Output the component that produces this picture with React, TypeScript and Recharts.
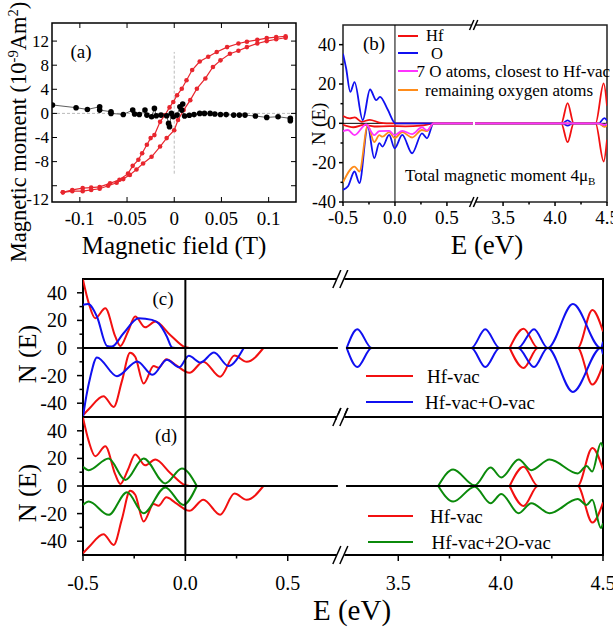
import React from "react";
import {
  LineChart,
  Line,
  XAxis,
  YAxis,
  ReferenceLine,
  ReferenceArea,
  ReferenceDot,
} from "recharts";

const SERIF = "'Liberation Serif', 'Times New Roman', serif";

type Pt = [number, number];

// ---------- panel (a): moment vs field ----------
const LOOP_DESC: Pt[] = [
  [0.118, 12.8], [0.108, 12.65], [0.098, 12.5], [0.088, 12.2], [0.077, 11.9],
  [0.068, 11.6], [0.056, 11.0], [0.045, 10.2], [0.036, 9.4], [0.027, 8.6],
  [0.019, 7.2], [0.013, 5.5], [0.008, 4.1], [0.003, 3.0], [-0.001, 1.9],
  [-0.005, 1.0], [-0.01, -0.3], [-0.015, -1.4], [-0.021, -3.6], [-0.025, -4.1],
  [-0.029, -5.2], [-0.034, -6.6], [-0.038, -7.7], [-0.044, -8.7], [-0.049, -10.0],
  [-0.058, -11.0], [-0.068, -11.6], [-0.079, -12.2], [-0.088, -12.3], [-0.097, -12.4],
  [-0.108, -12.7], [-0.118, -13.1],
];
const LOOP_ASC: Pt[] = [
  [-0.118, -13.1], [-0.108, -12.9], [-0.097, -12.9], [-0.088, -12.7], [-0.079, -12.5],
  [-0.07, -12.0], [-0.061, -11.5], [-0.054, -10.9], [-0.047, -10.2], [-0.04, -9.3],
  [-0.033, -8.3], [-0.024, -7.2], [-0.015, -5.5], [-0.008, -4.1], [0.0, -2.8],
  [0.004, -1.1], [0.01, 0.55], [0.017, 2.2], [0.024, 4.1], [0.033, 5.8],
  [0.041, 7.7], [0.049, 8.8], [0.059, 9.9], [0.068, 10.4], [0.077, 11.0],
  [0.088, 11.6], [0.098, 12.0], [0.108, 12.3], [0.118, 12.55],
];
const SUBSTRATE: Pt[] = [
  [-0.129, 1.4], [-0.104, 0.95], [-0.092, 0.66], [-0.079, 1.1], [-0.079, 0.55],
  [-0.067, 0.28], [-0.067, 0], [-0.054, -0.17], [-0.044, 0.55], [-0.042, -0.1],
  [-0.037, -0.17], [-0.031, 0.55], [-0.029, -0.28], [-0.024, -0.55], [-0.021, 0.83],
  [-0.019, -0.4], [-0.014, -0.28], [-0.008, -0.4], [-0.006, -1.66], [-0.005, -2.2],
  [-0.003, 0], [-0.001, -0.55], [0.003, -0.28], [0.006, 1.1], [0.009, 1.55],
  [0.008, 0.55], [0.011, -0.44], [0.016, -0.3], [0.021, -0.2], [0.027, 0],
  [0.032, 0], [0.038, 0], [0.043, -0.1], [0.049, -0.17], [0.055, -0.2],
  [0.063, -0.28], [0.069, -0.28], [0.075, -0.28], [0.086, -0.44], [0.098, -0.66],
  [0.11, -0.55], [0.123, -0.83], [0.123, -1.2],
];
const FIELD_TICKS = [-0.1, -0.05, 0, 0.05, 0.1];
const MOMENT_TICKS = [-12, -8, -4, 0, 4, 8, 12];

// ---------- panel (b): projected DOS, Hf-vac ----------
const B_HF_UP: Pt[] = [
  [-0.5, 3.7], [-0.435, 2.5], [-0.387, 3.0], [-0.32, 0.8], [-0.242, 1.8], [-0.15, 0.4],
  [-0.08, 0], [0.75, 0], [3.23, 0], [4.06, 0], [4.121, 10.3], [4.18, 0],
  [4.39, 0], [4.468, 20.3], [4.5, 9],
];
const B_HF_DOWN: Pt[] = [
  [-0.5, -0.8], [-0.4, -2], [-0.3, -0.8], [-0.2, -1.6], [-0.05, -1.4], [0.1, -1.5],
  [0.25, -1.2], [0.38, 0], [0.75, 0], [3.23, 0], [4.06, 0], [4.121, -9.6],
  [4.18, 0], [4.39, 0], [4.468, -19.4], [4.5, -8.4],
];
const B_O_UP: Pt[] = [
  [-0.5, 35.4], [-0.47, 28], [-0.43, 16], [-0.389, 21], [-0.31, 1.7], [-0.24, 17.2],
  [-0.18, 11.8], [-0.144, 13.5], [-0.07, 7], [0.005, 0], [0.75, 0], [3.23, 0],
  [4.07, 0], [4.121, 1.5], [4.17, 0], [4.42, 0], [4.475, 2.6], [4.5, 1.4],
];
const B_O_DOWN: Pt[] = [
  [-0.5, -33.8], [-0.452, -32], [-0.389, -24.5], [-0.342, -30.4], [-0.262, -1.7],
  [-0.199, -17.7], [-0.151, -10.1], [-0.12, -11.8], [-0.056, -5.9], [-0.003, -12.7],
  [0.07, -5.9], [0.165, -15.2], [0.26, -5.1], [0.308, -7.6], [0.371, 0], [0.75, 0],
  [3.23, 0], [4.07, 0], [4.121, -1.2], [4.17, 0], [4.42, 0], [4.475, -1.5], [4.5, -0.6],
];
const B_NEAR_DOWN: Pt[] = [
  [-0.5, -4], [-0.452, -3.4], [-0.389, -6], [-0.278, -0.6], [-0.199, -6], [-0.151, -4],
  [-0.056, -3.8], [-0.003, -6], [0.07, -3.8], [0.165, -5.5], [0.26, -2], [0.308, -3.6],
  [0.371, 0], [0.75, 0], [3.23, 0], [4.42, 0], [4.475, -0.8], [4.5, -0.4],
];
const B_REST_DOWN: Pt[] = [
  [-0.5, -30], [-0.389, -22], [-0.342, -24.5], [-0.262, -1], [-0.199, -9.5], [-0.151, -6],
  [-0.12, -6.8], [-0.056, -4.5], [-0.003, -7.5], [0.07, -4.5], [0.165, -7.2], [0.26, -3.4],
  [0.308, -4], [0.371, 0], [0.75, 0], [3.23, 0], [4.42, 0], [4.475, -1.8], [4.5, -1.1],
];

// ---------- panels (c), (d): total DOS ----------
const HFVAC_UP: Pt[] = [
  [-0.5, 49.5], [-0.472, 32.5], [-0.44, 21.6], [-0.391, 28.8], [-0.342, 8.2], [-0.318, 1.5],
  [-0.28, 12], [-0.245, 22.8], [-0.196, 15], [-0.147, 19.2], [-0.074, 9.5], [0, 0.5],
  [0.02, 0], [4.044, 0], [4.112, 14], [4.182, 0], [4.376, 0], [4.448, 27.6], [4.5, 12],
];
const HFVAC_DOWN: Pt[] = [
  [-0.5, -48.7], [-0.47, -44], [-0.4, -34.9], [-0.35, -42.7], [-0.31, -24], [-0.27, -3.4],
  [-0.245, -6.3], [-0.204, -25.7], [-0.155, -13.1], [-0.131, -14.3], [-0.093, -8.2],
  [-0.05, -12], [0.02, -18], [0.088, -9.9], [0.17, -20.8], [0.24, -5.5], [0.3, -10],
  [0.381, 0], [4.044, 0], [4.112, -14.5], [4.182, 0], [4.376, 0], [4.448, -26.5], [4.5, -12],
];
const OVAC_UP: Pt[] = [
  [-0.5, 31.3], [-0.475, 31.8], [-0.432, 22.8], [-0.383, 1.5], [-0.359, 1.0], [-0.302, 10.7],
  [-0.228, 21.6], [-0.163, 20.4], [-0.131, 17.9], [-0.09, 8.2], [-0.066, 0.5], [-0.05, 0],
  [3.248, 0], [3.3, 13.6], [3.37, 0], [3.857, 0], [3.925, 13.6], [3.995, 0], [4.085, 0],
  [4.163, 13.6], [4.23, 0], [4.353, 31.8], [4.49, 0], [4.5, 4.6],
];
const OVAC_DOWN: Pt[] = [
  [-0.5, -50], [-0.484, -35], [-0.464, -20.8], [-0.432, -6.8], [-0.334, -20.4],
  [-0.235, -9.7], [-0.16, -19.4], [-0.09, -8.5], [-0.03, -14], [0.017, -5.7],
  [0.074, -10.5], [0.14, -3.3], [0.21, -13], [0.285, 0], [3.248, 0], [3.3, -13.8],
  [3.37, 0], [3.857, 0], [3.925, -13.8], [3.995, 0], [4.085, 0], [4.163, -13.8],
  [4.23, 0], [4.353, -31.8], [4.49, 0], [4.5, -4.6],
];
const O2VAC_UP: Pt[] = [
  [-0.5, 13.9], [-0.472, 11.5], [-0.375, 19.9], [-0.293, 4.3], [-0.204, 19.9], [-0.098, 1.9],
  [-0.017, 12.7], [0.056, 0], [3.695, 0], [3.768, 12], [3.873, 0.5], [3.951, 13.4],
  [4.003, 6.2], [4.088, 19.2], [4.15, 11.5], [4.239, 19.2], [4.377, 9.1], [4.42, 14.5],
  [4.447, 10.5], [4.49, 31.2], [4.5, 28],
];
const O2VAC_DOWN: Pt[] = [
  [-0.5, -13.7], [-0.472, -11.3], [-0.375, -20.9], [-0.285, -4.5], [-0.204, -19.7],
  [-0.098, -1], [-0.01, -13.7], [0.056, 0], [3.695, 0], [3.768, -11.3], [3.873, -0.5],
  [3.951, -12.5], [4.003, -5.8], [4.088, -19.7], [4.15, -12.5], [4.239, -19.7],
  [4.377, -9.5], [4.42, -13.7], [4.447, -10], [4.49, -30.5], [4.5, -27],
];
const ZERO: Pt[] = [[-0.5, 0], [0.745, 0], [3.245, 0], [4.5, 0]];
const E_TICKS = [-0.5, -0.25, 0, 0.25, 0.5, 3.5, 3.75, 4.0, 4.25, 4.5];
const DOS_TICKS_B = [-40, -30, -20, -10, 0, 10, 20, 30, 40];
const DOS_TICKS_CD = [-40, -30, -20, -10, 0, 10, 20, 30, 40];

// broken energy axis: 0.75..3.2 eV squeezed out
const GAP = 2.46;
const BREAK = 0.757;
const tx = (e: number) => (e > 2 ? e - GAP : e);
const realE = (t: number) => (t > BREAK ? t + GAP : t);
const X_MIN = -0.5;
const X_MAX = tx(4.5);

function toPlot(pts: Pt[]) {
  const out: { x: number; y: number | null }[] = [];
  pts.forEach(([e, n], i) => {
    if (i > 0 && pts[i - 1][0] < 2 && e > 2) out.push({ x: BREAK + 0.008, y: null });
    out.push({ x: tx(e), y: n });
  });
  return out;
}
const xy = (pts: Pt[]) => pts.map(([x, y]) => ({ x, y }));

const RED = "#f21010";
const BLUE = "#1010f0";
const GREEN = "#0b8a0b";
const MAGENTA = "#ff33ff";
const ORANGE = "#ff8c1a";
const LOOP_RED = "#e8262e";

// ---------- ticks ----------
const A_W = 244;
const A_H = 179;

function AXTick({ x, y, payload }: any) {
  return (
    <g>
      <line x1={x} x2={x} y1={y} y2={y - 5} stroke="#000" />
      <line x1={x} x2={x} y1={y - A_H} y2={y - A_H + 5} stroke="#000" />
      <text x={x} y={y + 16} textAnchor="middle" dominantBaseline="central" fontSize={19} fontFamily={SERIF}>
        {String(payload.value)}
      </text>
    </g>
  );
}

function AYTick({ x, y, payload }: any) {
  const v = payload.value;
  return (
    <g>
      <line x1={x} x2={x + 5} y1={y} y2={y} stroke="#000" />
      <line x1={x + A_W} x2={x + A_W - 5} y1={y} y2={y} stroke="#000" />
      <text x={x - 3} y={y + (v === -12 ? 14 : 0)} textAnchor="end" dominantBaseline="central" fontSize={17} fontFamily={SERIF}>
        {String(v)}
      </text>
    </g>
  );
}

function makeETick(fontSize: number, labelDy: number, major: number, minor: number) {
  return ({ x, y, payload }: any) => {
    const e = realE(payload.value);
    const isMajor = Math.abs(e * 2 - Math.round(e * 2)) < 1e-6;
    return (
      <g>
        <line x1={x} x2={x} y1={y} y2={y + (isMajor ? major : minor)} stroke="#000" strokeWidth={1.5} />
        {isMajor && (
          <text x={x} y={y + labelDy} textAnchor="middle" dominantBaseline="central" fontSize={fontSize} fontFamily={SERIF}>
            {e.toFixed(1)}
          </text>
        )}
      </g>
    );
  };
}

function makeNTick(fontSize: number, gap: number, major: number, minor: number) {
  return ({ x, y, payload }: any) => {
    const v = payload.value;
    const isMajor = v % 20 === 0;
    return (
      <g>
        <line x1={x - (isMajor ? major : minor)} x2={x} y1={y} y2={y} stroke="#000" strokeWidth={1.5} />
        {isMajor && (
          <text x={x - gap} y={y} textAnchor="end" dominantBaseline="central" fontSize={fontSize} fontFamily={SERIF}>
            {String(v)}
          </text>
        )}
      </g>
    );
  };
}

const BTickX = makeETick(19, 15, 4, 2.5);
const BTickY = makeNTick(18, 7, 4, 2.5);
const DTickX = makeETick(20, 28, 6, 3.5);
const CDTickY = makeNTick(20, 16, 6, 3.5);

function BreakMark({ cx, cy, s }: { cx: number; cy: number; s: number }) {
  return (
    <g>
      <rect x={cx - 3.5 * s} y={cy - 2.5 * s} width={7.5 * s} height={5 * s} fill="#fff" />
      <line x1={cx - 7.5 * s} y1={cy + 9 * s} x2={cx + 0.5 * s} y2={cy - 9 * s} stroke="#000" strokeWidth={1.5} />
      <line x1={cx - 0.5 * s} y1={cy + 9 * s} x2={cx + 7.5 * s} y2={cy - 9 * s} stroke="#000" strokeWidth={1.5} />
    </g>
  );
}

// ---------- text helpers ----------
function Txt({
  x, y, size, anchor = "middle", rotate = false, children,
}: { x: number; y: number; size: number; anchor?: "middle" | "start"; rotate?: boolean; children: React.ReactNode }) {
  const tx0 = anchor === "middle" ? "-50%" : "0";
  return (
    <div
      style={{
        position: "absolute",
        left: x,
        top: y,
        fontSize: size,
        fontFamily: SERIF,
        lineHeight: 1,
        whiteSpace: "nowrap",
        color: "#000",
        transform: `translate(${tx0}, -50%)${rotate ? " rotate(-90deg)" : ""}`,
      }}
    >
      {children}
    </div>
  );
}

function LegendLine({ x1, x2, y, color }: { x1: number; x2: number; y: number; color: string }) {
  return <div style={{ position: "absolute", left: x1, top: y - 1, width: x2 - x1, height: 2, background: color }} />;
}

const lineProps = {
  dataKey: "y",
  dot: false,
  activeDot: false,
  isAnimationActive: false,
  type: "monotone" as const,
};

function PanelA() {
  return (
    <LineChart width={300} height={240} margin={{ top: 23, right: 4, bottom: 8, left: 0 }}>
      <XAxis
        dataKey="x" type="number" domain={[-0.1295, 0.129]} allowDataOverflow
        ticks={FIELD_TICKS} interval={0} tick={AXTick} tickLine={false} tickSize={0} tickMargin={0}
        axisLine={false} height={30}
      />
      <YAxis
        type="number" domain={[-14.7, 15]} allowDataOverflow ticks={MOMENT_TICKS} interval={0}
        tick={AYTick} tickLine={false} tickSize={0} tickMargin={0} axisLine={false} width={52}
      />
      <ReferenceLine y={0} stroke="#aaa" strokeDasharray="3 2" strokeWidth={0.8} />
      <ReferenceLine segment={[{ x: 0, y: -10 }, { x: 0, y: 10.2 }]} stroke="#aaa" strokeDasharray="3 2" strokeWidth={0.8} />
      <ReferenceArea x1={-0.1295} x2={0.129} y1={-14.7} y2={15} fill="none" stroke="#000" strokeWidth={1.5} ifOverflow="visible" />
      <Line data={xy(LOOP_DESC)} dataKey="y" type="linear" stroke={LOOP_RED} strokeWidth={1.2}
        dot={{ r: 2.3, fill: LOOP_RED, stroke: "none" }} activeDot={false} isAnimationActive={false} />
      <Line data={xy(LOOP_ASC)} dataKey="y" type="linear" stroke={LOOP_RED} strokeWidth={1.2}
        dot={{ r: 2.3, fill: LOOP_RED, stroke: "none" }} activeDot={false} isAnimationActive={false} />
      <Line data={xy(SUBSTRATE)} dataKey="y" type="linear" stroke="#333" strokeWidth={0.8}
        dot={{ r: 2.8, fill: "#000", stroke: "none" }} activeDot={false} isAnimationActive={false} />
    </LineChart>
  );
}

function PanelB() {
  return (
    <LineChart width={313} height={260} margin={{ top: 25, right: 6, bottom: 28, left: 0 }}>
      <XAxis
        dataKey="x" type="number" domain={[X_MIN, X_MAX]} allowDataOverflow ticks={E_TICKS.map(tx)}
        interval={0} tick={BTickX} tickLine={false} tickSize={0} tickMargin={0} axisLine={false} height={30}
      />
      <YAxis
        type="number" domain={[-40, 50]} allowDataOverflow ticks={DOS_TICKS_B} interval={0}
        tick={BTickY} tickLine={false} tickSize={0} tickMargin={0} axisLine={false} width={43}
      />
      <Line {...lineProps} data={toPlot(ZERO)} type="linear" stroke="#000" strokeWidth={1} />
      <ReferenceLine x={0} stroke="#000" strokeWidth={1} />
      <Line {...lineProps} data={toPlot(B_HF_UP)} stroke={RED} strokeWidth={1.8} />
      <Line {...lineProps} data={toPlot(B_HF_DOWN)} stroke={RED} strokeWidth={1.8} />
      <Line {...lineProps} data={toPlot(B_O_UP)} stroke={BLUE} strokeWidth={1.8} />
      <Line {...lineProps} data={toPlot(B_O_DOWN)} stroke={BLUE} strokeWidth={1.8} />
      <Line {...lineProps} data={toPlot(B_REST_DOWN)} stroke={ORANGE} strokeWidth={1.8} />
      <Line {...lineProps} data={toPlot(B_NEAR_DOWN)} stroke={MAGENTA} strokeWidth={1.8} />
      <ReferenceArea x1={X_MIN} x2={X_MAX} y1={-40} y2={50} fill="none" stroke="#222" strokeWidth={1.5} ifOverflow="visible" />
      <ReferenceDot x={BREAK} y={50} ifOverflow="visible" shape={(p: any) => <BreakMark cx={p.cx} cy={p.cy} s={0.55} />} />
      <ReferenceDot x={BREAK} y={-40} ifOverflow="visible" shape={(p: any) => <BreakMark cx={p.cx} cy={p.cy} s={0.55} />} />
    </LineChart>
  );
}

function PanelDOS({
  upA, downA, upB, downB, colorB, showX,
}: { upA: Pt[]; downA: Pt[]; upB: Pt[]; downB: Pt[]; colorB: string; showX: boolean }) {
  return (
    <LineChart
      width={613}
      height={showX ? 231 : 150}
      margin={showX ? { top: 17, right: 10, bottom: 36, left: 0 } : { top: 9, right: 10, bottom: 3, left: 0 }}
    >
      <XAxis
        dataKey="x" type="number" domain={[X_MIN, X_MAX]} allowDataOverflow ticks={E_TICKS.map(tx)}
        interval={0} tick={DTickX} tickLine={false} tickSize={0} tickMargin={0} axisLine={false}
        height={40} hide={!showX}
      />
      <YAxis
        type="number" domain={[-50, 50]} allowDataOverflow ticks={DOS_TICKS_CD} interval={0}
        tick={CDTickY} tickLine={false} tickSize={0} tickMargin={0} axisLine={false} width={83}
      />
      <Line {...lineProps} data={toPlot(upA)} stroke={RED} strokeWidth={2} />
      <Line {...lineProps} data={toPlot(downA)} stroke={RED} strokeWidth={2} />
      <Line {...lineProps} data={toPlot(upB)} stroke={colorB} strokeWidth={2} />
      <Line {...lineProps} data={toPlot(downB)} stroke={colorB} strokeWidth={2} />
      <Line {...lineProps} data={toPlot(ZERO)} type="linear" stroke="#000" strokeWidth={2} />
      <ReferenceLine x={0} stroke="#000" strokeWidth={2} />
      <ReferenceArea x1={X_MIN} x2={X_MAX} y1={-50} y2={50} fill="none" stroke="#000" strokeWidth={2} ifOverflow="visible" />
      <ReferenceDot x={BREAK} y={50} ifOverflow="visible" shape={(p: any) => <BreakMark cx={p.cx} cy={p.cy} s={1} />} />
      <ReferenceDot x={BREAK} y={-50} ifOverflow="visible" shape={(p: any) => <BreakMark cx={p.cx} cy={p.cy} s={1} />} />
    </LineChart>
  );
}

export default function App() {
  return (
    <div style={{ position: "absolute", left: 0, top: 0, width: 613, height: 631, background: "#fff", overflow: "hidden" }}>
      <div style={{ position: "absolute", left: 0, top: 0 }}>
        <PanelA />
      </div>
      <div style={{ position: "absolute", left: 300, top: 0 }}>
        <PanelB />
      </div>
      <div style={{ position: "absolute", left: 0, top: 270 }}>
        <PanelDOS upA={HFVAC_UP} downA={HFVAC_DOWN} upB={OVAC_UP} downB={OVAC_DOWN} colorB={BLUE} showX={false} />
      </div>
      <div style={{ position: "absolute", left: 0, top: 400 }}>
        <PanelDOS upA={HFVAC_UP} downA={HFVAC_DOWN} upB={O2VAC_UP} downB={O2VAC_DOWN} colorB={GREEN} showX />
      </div>

      {/* panel (a) text */}
      <Txt x={81} y={51} size={19}>(a)</Txt>
      <Txt x={18} y={132} size={22.5} rotate>
        Magnetic moment (10<sup style={{ fontSize: "0.65em" }}>-9</sup>Am<sup style={{ fontSize: "0.65em" }}>2</sup>)
      </Txt>
      <Txt x={174} y={245} size={25}>Magnetic field (T)</Txt>

      {/* panel (b) text */}
      <Txt x={374} y={43} size={19}>(b)</Txt>
      <Txt x={318} y={124} size={19} rotate>N (E)</Txt>
      <Txt x={487} y={245} size={27}>E (eV)</Txt>
      <LegendLine x1={398} x2={418} y={36} color={RED} />
      <LegendLine x1={398} x2={418} y={53} color={BLUE} />
      <LegendLine x1={398} x2={418} y={71} color={MAGENTA} />
      <LegendLine x1={398} x2={418} y={90} color={ORANGE} />
      <Txt x={426} y={35.5} size={16.5} anchor="start">Hf</Txt>
      <Txt x={431} y={53.5} size={16.5} anchor="start">O</Txt>
      <Txt x={416.5} y={71} size={17} anchor="start">7 O atoms, closest to Hf-vac</Txt>
      <Txt x={425} y={90} size={17} anchor="start">remaining oxygen atoms</Txt>
      <Txt x={405} y={177} size={17} anchor="start">
        Total magnetic moment 4μ<sub style={{ fontSize: "0.65em" }}>B</sub>
      </Txt>

      {/* panel (c) text */}
      <Txt x={163} y={298} size={19}>(c)</Txt>
      <Txt x={28} y={354} size={26} rotate>N (E)</Txt>
      <LegendLine x1={366} x2={413} y={376} color={RED} />
      <LegendLine x1={366} x2={413} y={402} color={BLUE} />
      <Txt x={427} y={376} size={19} anchor="start">Hf-vac</Txt>
      <Txt x={425} y={402} size={19} anchor="start">Hf-vac+O-vac</Txt>

      {/* panel (d) text */}
      <Txt x={166} y={435} size={19}>(d)</Txt>
      <Txt x={28} y={493} size={26} rotate>N (E)</Txt>
      <LegendLine x1={368} x2={413} y={516} color={RED} />
      <LegendLine x1={368} x2={413} y={542} color={GREEN} />
      <Txt x={430} y={516} size={19} anchor="start">Hf-vac</Txt>
      <Txt x={431.5} y={542} size={19} anchor="start">Hf-vac+2O-vac</Txt>
      <Txt x={352} y={610} size={29}>E (eV)</Txt>
    </div>
  );
}
